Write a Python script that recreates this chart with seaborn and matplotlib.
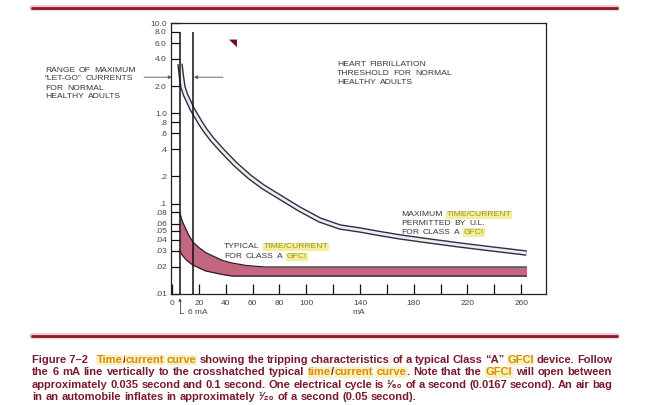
#!/usr/bin/env python3
"""Time/current curve for a typical Class A GFCI (textbook figure 7-2)."""

import re

import matplotlib

matplotlib.use("Agg")

import matplotlib.pyplot as plt
from matplotlib import font_manager
from matplotlib.lines import Line2D
from matplotlib.transforms import IdentityTransform
import pandas as pd
import seaborn as sns


FIG_W, FIG_H = 655, 405

# maximum time/current permitted by U.L. (mA, seconds)
UL_MA = [6, 7, 8.2, 10, 12, 15, 18.6, 21, 24.6, 30, 37, 47, 58, 68, 80, 95, 110, 125,
         140, 155, 170, 190, 214, 240, 264]
UL_SEC = [3.52, 2.6, 1.96, 1.62, 1.40, 1.12, 0.91, 0.79, 0.654, 0.513, 0.393, 0.275,
          0.197, 0.153, 0.119, 0.087, 0.066, 0.0552, 0.0511, 0.0466, 0.0428, 0.0389,
          0.0349, 0.0313, 0.0284]

# typical class A GFCI band (mA, seconds)
BAND_MA = [6, 7, 8, 10, 12, 15.6, 20, 25, 32, 38, 45, 55, 69, 100, 264]
BAND_HIGH = [0.0788, 0.069, 0.0624, 0.0538, 0.0462, 0.0376, 0.0327, 0.0288, 0.0257,
             0.0234, 0.0220, 0.0207, 0.0199, 0.0199, 0.0199]
BAND_LOW = [0.0292, 0.0279, 0.0266, 0.0244, 0.0229, 0.0209, 0.0195, 0.0180, 0.0171,
            0.0164, 0.0158, 0.0158, 0.0158, 0.0158, 0.0158]

# 6 mA line and the upper end of the let-go range
MARK_MA = [6, 16]
MARK_TOP = 8.0

Y_TICKS = [10, 8, 6, 4, 2, 1, 0.8, 0.6, 0.4, 0.2, 0.1, 0.08, 0.06, 0.05, 0.04, 0.03, 0.02, 0.01]
Y_LABELS = ["10.0", "8.0", "6.0", "4.0", "2.0", "1.0", ".8", ".6", ".4", ".2", ".1",
            ".08", ".06", ".05", ".04", ".03", ".02", ".01"]
X_TICKS = list(range(0, 261, 20))
X_LABELS = ["0", "20", "40", "60", "80", "100", "", "140", "", "180", "", "220", "", "260"]

LETGO_LINES = ["RANGE OF MAXIMUM", "\u201cLET-GO\u201d CURRENTS", "FOR NORMAL", "HEALTHY ADULTS"]
HEART_LINES = ["HEART FIBRILLATION", "THRESHOLD FOR NORMAL", "HEALTHY ADULTS"]
TYPICAL_LINES = ["TYPICAL {TIME/CURRENT}", "FOR CLASS A {GFCI}"]
UL_LINES = ["MAXIMUM {TIME/CURRENT}", "PERMITTED BY U.L.", "FOR CLASS A {GFCI}"]

CAPTION_LINES = [
    "Figure\u00a07\u20132\u00a0\u00a0 {Time}/{current} {curve} showing the tripping characteristics "
    "of a typical Class \u201cA\u201d {GFCI} device. Follow",
    "the 6 mA line vertically to the crosshatched typical {time}/{current} {curve}. "
    "Note that the {GFCI} will open between",
    "approximately 0.035 second and 0.1 second. One electrical cycle is \u00b9\u2044\u2086\u2080 "
    "of a second (0.0167 second). An air bag",
    "in an automobile inflates in approximately \u00b9\u2044\u2082\u2080 of a second (0.05 second).",
]

INK = "#383838"
MAROON = "#7a1a2c"


def fig_frac(x, y):
    return x / FIG_W, 1 - y / FIG_H


def parse_words(line):
    words = []
    for word in line.split(" "):
        parts = re.split(r"(\{[^}]*\})", word)
        words.append([(p[1:-1], True) if p.startswith("{") else (p, False) for p in parts if p])
    return words


def place_line(fig, renderer, line, x0, y, style, hi_style, x1=None, gap_scale=1.0):
    """Draw one line of words in figure pixels, optionally justified to x1."""
    probe = fig.text(0, 0, "a a", transform=IdentityTransform(), **style)
    w_sp = probe.get_window_extent(renderer).width
    probe.set_text("aa")
    space = w_sp - probe.get_window_extent(renderer).width
    probe.remove()

    placed = []
    for word in parse_words(line):
        segs, width = [], 0.0
        for text, hi in word:
            kw = dict(style)
            if hi:
                kw.update(hi_style)
            t = fig.text(0, 0, text, transform=IdentityTransform(), ha="left", va="center", **kw)
            w = t.get_window_extent(renderer).width
            segs.append((t, w))
            width += w
        placed.append((segs, width))

    gap = space * gap_scale
    if x1 is not None and len(placed) > 1:
        total = sum(w for _, w in placed)
        gap = (x1 - x0 - total) / (len(placed) - 1)
    x = x0
    for segs, _ in placed:
        for t, w in segs:
            t.set_position((x, FIG_H - y))
            x += w
        x += gap


def main():
    sns.set_theme(style="white")
    names = {f.name for f in font_manager.fontManager.ttflist}
    caption_font = "Liberation Sans Narrow" if "Liberation Sans Narrow" in names else "Liberation Sans"
    plt.rcParams["font.family"] = ["Liberation Sans", "DejaVu Sans"]

    fig = plt.figure(figsize=(FIG_W / 100, FIG_H / 100), dpi=100)
    fig.patch.set_facecolor("white")
    left, right, top, bottom = 171, 546, 23, 294
    ax = fig.add_axes([left / FIG_W, 1 - bottom / FIG_H, (right - left) / FIG_W, (bottom - top) / FIG_H])

    band = pd.DataFrame({"mA": BAND_MA, "high": BAND_HIGH, "low": BAND_LOW})
    ul = pd.DataFrame({"mA": UL_MA, "sec": UL_SEC})

    ax.fill_between(band["mA"], band["low"], band["high"], color="#c4667f", lw=0, zorder=2)
    for col in ("high", "low"):
        sns.lineplot(data=band, x="mA", y=col, ax=ax, color="#2a1f22", linewidth=0.9,
                     estimator=None, sort=False, zorder=3)

    # double-line curve: dark wide stroke with a light core
    sns.lineplot(data=ul, x="mA", y="sec", ax=ax, color="#2e2e3c", linewidth=4.0,
                 estimator=None, sort=False, zorder=3, solid_capstyle="butt",
                 solid_joinstyle="round")
    sns.lineplot(data=ul, x="mA", y="sec", ax=ax, color="#ededf5", linewidth=2.0,
                 estimator=None, sort=False, zorder=4, solid_capstyle="butt",
                 solid_joinstyle="round")

    ax.vlines(MARK_MA, Y_TICKS[-1], MARK_TOP, color="#111111", lw=1.1, zorder=5)

    ax.set_yscale("log")
    ax.set_ylim(0.01, 10)
    ax.set_xlim(-0.7, 278.5)
    ax.set_yticks(Y_TICKS)
    ax.set_yticklabels(Y_LABELS)
    ax.set_xticks(X_TICKS)
    ax.set_xticklabels(X_LABELS)
    ax.minorticks_off()
    ax.tick_params(axis="y", direction="in", length=6.5, width=0.9, labelsize=6, pad=3,
                   color="#111111", labelcolor="#444444", left=True, right=False)
    ax.tick_params(axis="x", direction="in", length=7, width=0.9, labelsize=6, pad=4,
                   color="#111111", labelcolor="#444444", bottom=True, top=False)
    ax.set_xlabel("mA", fontsize=6, color="#444444", labelpad=1.5)
    ax.set_ylabel("")
    for spine in ax.spines.values():
        spine.set_color("#222222")
        spine.set_linewidth(0.9)

    # let-go range arrows
    arrow = dict(arrowstyle="-|>", color="#555555", lw=0.6, mutation_scale=5, shrinkA=0, shrinkB=0)
    ax.annotate("", xy=(0, 0.80), xycoords=("data", "axes fraction"), xytext=(-28, 0),
                textcoords="offset pixels", arrowprops=arrow, annotation_clip=False)
    ax.annotate("", xy=(16.4, 0.80), xycoords=("data", "axes fraction"), xytext=(29, 0),
                textcoords="offset pixels", arrowprops=arrow)

    # 6 mA leader under the axis
    ax.annotate("6 mA", xy=(6, 0.01), xycoords="data", xytext=(8, -19), textcoords="offset pixels",
                ha="left", va="center", fontsize=6, color="#444444", annotation_clip=False,
                arrowprops=dict(arrowstyle="-|>", color="#444444", lw=0.6, mutation_scale=4,
                                shrinkA=1, shrinkB=3,
                                connectionstyle="angle,angleA=0,angleB=90,rad=0"))

    fig.text(*fig_frac(233, 43), "\u25e5", fontsize=7.5, color="#6b0f1f", ha="center", va="center",
             family=["DejaVu Sans"])

    # red rules
    for yy in (8, 336):
        fig.add_artist(Line2D([32 / FIG_W, 617 / FIG_W], [1 - yy / FIG_H] * 2,
                              transform=fig.transFigure, color="#f0c4ca", lw=4.0))
        fig.add_artist(Line2D([32 / FIG_W, 617 / FIG_W], [1 - yy / FIG_H] * 2,
                              transform=fig.transFigure, color="#8a1b2c", lw=2.0))

    renderer = fig.canvas.get_renderer()
    label_style = dict(fontsize=6.1, color=INK)
    label_hi = dict(color="#9c9420", bbox=dict(boxstyle="square,pad=0.08", fc="#f2ee9c", ec="none"))

    for i, line in enumerate(LETGO_LINES):
        place_line(fig, renderer, line, 45, 70 + 9 * i, label_style, label_hi, gap_scale=1.6)
    for i, line in enumerate(HEART_LINES):
        place_line(fig, renderer, line, 337, 64 + 9.5 * i, label_style, label_hi, gap_scale=1.6)
    for i, line in enumerate(TYPICAL_LINES):
        place_line(fig, renderer, line, 224, 247 + 10 * i, label_style, label_hi, gap_scale=1.6)
    for i, line in enumerate(UL_LINES):
        place_line(fig, renderer, line, 401, 215 + 8.7 * i, label_style, label_hi, gap_scale=1.6)

    cap_style = dict(fontsize=8.0, color=MAROON, weight="bold", family=[caption_font, "DejaVu Sans"])
    cap_hi = dict(color="#d98b12", bbox=dict(boxstyle="square,pad=0.04", fc="#fbf1bc", ec="none"))
    for i, line in enumerate(CAPTION_LINES):
        x1 = 612 if i < len(CAPTION_LINES) - 1 else None
        place_line(fig, renderer, line, 32, 360 + 12.3 * i, cap_style, cap_hi, x1=x1)

    fig.savefig("out.png", dpi=100, facecolor="white")
    plt.close(fig)


if __name__ == "__main__":
    main()
